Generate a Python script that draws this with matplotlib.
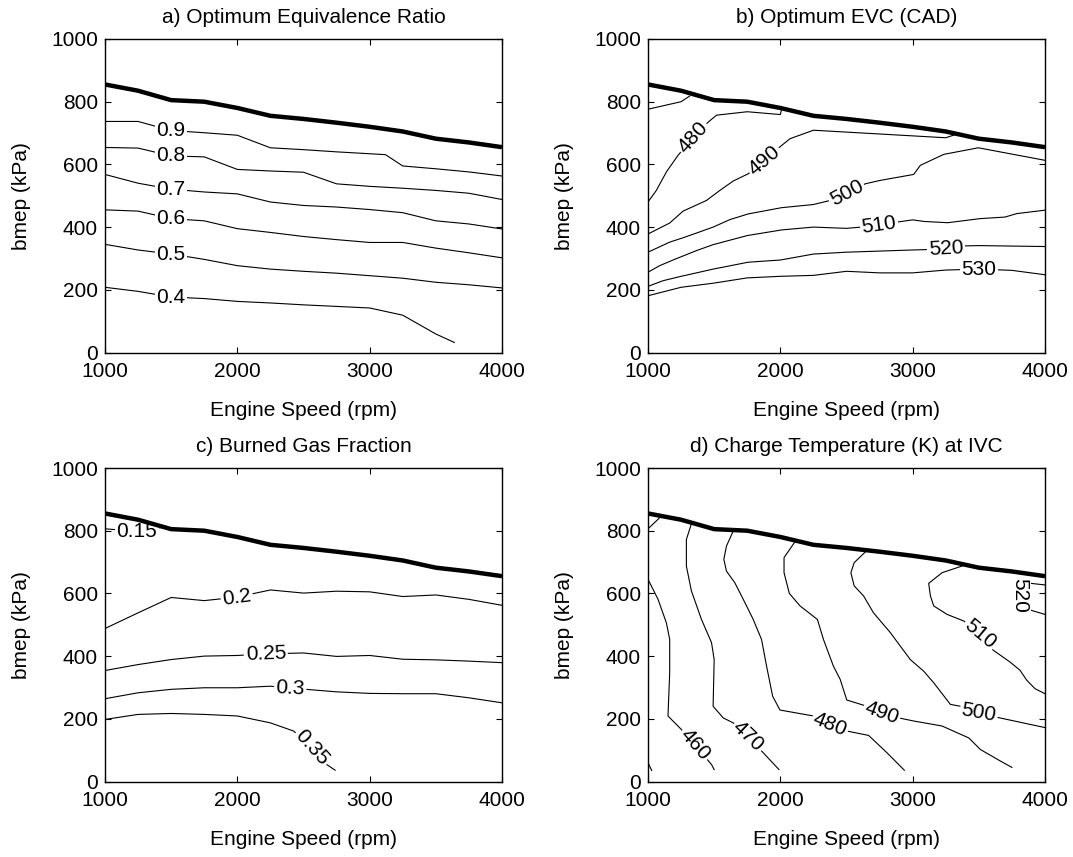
# plot.py
# =====================================================
# Four contour maps over the engine speed / load plane:
# optimum equivalence ratio, optimum EVC, burned gas
# fraction and charge temperature at IVC. Every panel
# is capped by the maximum-bmep line (thick black).
# Contour lines are traced polylines.
# =====================================================

import matplotlib
matplotlib.use("Agg")
import matplotlib.pyplot as plt

OUT_FILE = "out.png"

# -----------------------------------------------------
# Shared data
# -----------------------------------------------------
SPEED_GRID = [1000, 1250, 1500, 1750, 2000, 2250, 2500, 2750, 3000, 3250, 3500, 3750, 4000]
MAX_BMEP = [855, 835, 805, 800, 780, 755, 745, 733, 720, 705, 682, 670, 655]

# -----------------------------------------------------
# a) Optimum equivalence ratio
# -----------------------------------------------------
PHI_LEVELS = ["0.9", "0.8", "0.7", "0.6", "0.5", "0.4"]
PHI_X = [
    [1000, 1250, 1500, 1750, 2000, 2250, 2500, 2750, 3000, 3120, 3250, 3500, 3750, 4000],
    [1000, 1250, 1500, 1750, 2000, 2250, 2500, 2750, 3000, 3250, 3500, 3750, 4000],
    [1000, 1250, 1500, 1750, 2000, 2250, 2500, 2750, 3000, 3250, 3500, 3750, 4000],
    [1000, 1250, 1500, 1750, 2000, 2250, 2500, 2750, 3000, 3250, 3500, 3750, 4000],
    [1000, 1250, 1500, 1750, 2000, 2250, 2500, 2750, 3000, 3250, 3500, 3750, 4000],
    [1000, 1250, 1500, 1750, 2000, 2250, 2500, 2750, 3000, 3250, 3500, 3640],
]
PHI_Y = [
    [737, 737, 708, 701, 693, 653, 647, 640, 634, 631, 595, 586, 576, 563],
    [654, 652, 627, 624, 584, 579, 575, 538, 530, 524, 517, 508, 488],
    [568, 540, 521, 512, 506, 480, 469, 464, 456, 446, 420, 410, 394],
    [455, 451, 427, 420, 395, 383, 370, 360, 351, 351, 333, 318, 302],
    [345, 327, 314, 297, 277, 266, 259, 253, 245, 237, 224, 216, 206],
    [208, 195, 177, 172, 163, 158, 152, 147, 142, 119, 59, 32],
]
PHI_LABEL_AT = [2, 2, 2, 2, 2, 2]
PHI_LABEL_ROT = [0, 0, 0, 0, 0, 0]

# -----------------------------------------------------
# b) Optimum EVC (CAD)
# -----------------------------------------------------
EVC_LEVELS = ["470", "480", "490", "500", "510", "520", "530"]
EVC_X = [
    [1000, 1250, 1315],
    [1000, 1063, 1139, 1227, 1341, 1455, 1518, 1750, 2000, 2010],
    [1000, 1164, 1265, 1442, 1543, 1644, 1757, 1880, 1997, 2073, 2250, 3250, 3336],
    [1000, 1164, 1265, 1366, 1492, 1619, 1757, 2010, 2250, 2376, 2502, 2641, 2755,
     3008, 3058, 3235, 3496, 4000],
    [1000, 1088, 1189, 1366, 1492, 1750, 2010, 2250, 2500, 2747, 2881, 3000, 3088,
     3265, 3509, 3698, 3786, 4000],
    [1000, 1114, 1240, 1492, 1757, 2000, 2250, 2500, 3000, 3252, 3386, 3500, 4000],
    [1000, 1250, 1492, 1750, 2000, 2250, 2500, 2750, 3000, 3250, 3500, 3750, 4000],
]
EVC_Y = [
    [776, 800, 818],
    [480, 517, 576, 629, 686, 735, 757, 768, 759, 776],
    [378, 413, 451, 485, 517, 547, 570, 612, 656, 682, 709, 685, 697],
    [320, 352, 366, 381, 400, 424, 442, 462, 472, 485, 508, 538, 549,
     568, 597, 632, 653, 613],
    [256, 277, 295, 325, 344, 373, 391, 400, 396, 405, 416, 423, 418,
     414, 427, 432, 443, 454],
    [211, 229, 242, 266, 288, 295, 314, 320, 327, 330, 340, 341, 338],
    [181, 208, 221, 238, 243, 246, 259, 254, 254, 263, 266, 262, 248],
]
EVC_LABEL_AT = [None, 4, 7, 10, 9, 9, 10]
EVC_LABEL_ROT = [0, 48, 40, 28, 8, 3, 0]

# -----------------------------------------------------
# c) Burned gas fraction
# -----------------------------------------------------
BGF_LEVELS = ["0.15", "0.2", "0.25", "0.3", "0.35"]
BGF_X = [
    [1000, 1240, 1420],
    [1000, 1250, 1500, 1750, 1996, 2250, 2500, 2750, 3000, 3250, 3500, 3750, 4000],
    [1000, 1250, 1500, 1750, 2000, 2215, 2500, 2750, 3000, 3250, 3500, 3750, 4000],
    [1000, 1250, 1500, 1750, 2000, 2250, 2400, 2750, 3000, 3250, 3500, 3750, 4000],
    [1000, 1250, 1500, 1750, 2000, 2250, 2425, 2563, 2676, 2739],
]
BGF_Y = [
    [806, 798, 810],
    [488, 538, 587, 577, 588, 611, 601, 607, 605, 590, 595, 581, 562],
    [354, 373, 389, 400, 402, 407, 410, 399, 402, 390, 388, 384, 379],
    [264, 283, 294, 299, 299, 304, 298, 286, 281, 280, 280, 267, 251],
    [198, 214, 217, 214, 209, 187, 161, 107, 54, 36],
]
BGF_LABEL_AT = [1, 4, 5, 6, 7]
BGF_LABEL_ROT = [0, 8, 2, -3, -48]

# -----------------------------------------------------
# d) Charge temperature (K) at IVC
# -----------------------------------------------------
TIVC_LEVELS = ["450", "450", "460", "470", "480", "490", "500", "510", "520"]
TIVC_X = [
    [1000, 1090],
    [1000, 1028],
    [1000, 1076, 1139, 1164, 1164, 1151, 1252, 1354, 1480, 1500],
    [1328, 1290, 1290, 1328, 1404, 1480, 1500, 1492, 1568, 1644, 1757, 1859, 1990],
    [1644, 1593, 1573, 1593, 1656, 1720, 1795, 1858, 1896, 1942, 1997, 2250, 2376,
     2502, 2667, 2805, 2937],
    [2111, 2028, 2028, 2068, 2149, 2280, 2326, 2401, 2452, 2502, 2654, 2767, 2894,
     3007, 3222, 3424, 3512, 3664, 3750],
    [2649, 2558, 2533, 2558, 2629, 2704, 2831, 2982, 3083, 3159, 3285, 3361, 3500,
     3635, 4000],
    [3378, 3222, 3121, 3134, 3159, 3260, 3386, 3510, 3608, 3736, 3811, 3862, 3925, 4000],
    [4000, 3872, 3811, 3872, 4000],
]
TIVC_Y = [
    [806, 842],
    [60, 35],
    [645, 581, 506, 453, 347, 209, 166, 117, 54, 38],
    [822, 772, 687, 608, 517, 443, 389, 240, 203, 187, 143, 97, 38],
    [799, 751, 709, 671, 634, 581, 517, 453, 368, 272, 228, 209, 183,
     161, 147, 92, 36],
    [765, 714, 666, 600, 560, 517, 453, 368, 326, 260, 240, 220, 203,
     193, 177, 139, 102, 65, 45],
    [735, 698, 666, 624, 592, 538, 475, 389, 352, 315, 246, 240, 220,
     205, 172],
    [688, 666, 632, 592, 560, 533, 512, 470, 419, 381, 355, 323, 296, 280],
    [627, 633, 594, 549, 533],
]
TIVC_LABEL_AT = [None, None, 7, 10, 12, 11, 12, 7, 2]
TIVC_LABEL_ROT = [0, 0, -49, -44, -22, -20, -10, -40, -90]

FONT = "Liberation Sans"
FS = 15


def draw_panel(ax, title, xs, ys, levels, label_at, label_rot):
    # thin contour lines with in-line labels
    for x, y, lvl, idx, rot in zip(xs, ys, levels, label_at, label_rot):
        ax.plot(x, y, color="black", lw=0.8, zorder=2)
        if idx is not None:
            ax.text(x[idx], y[idx], lvl, rotation=rot, rotation_mode="anchor",
                    ha="center", va="center", fontsize=FS, family=FONT,
                    bbox=dict(boxstyle="square,pad=0.08", fc="white", ec="none"),
                    zorder=4)

    # maximum load line
    ax.plot(SPEED_GRID, MAX_BMEP, color="black", lw=3.2,
            solid_capstyle="butt", zorder=5)

    ax.set_xlim(1000, 4000)
    ax.set_ylim(0, 1000)
    ax.set_xticks([1000, 2000, 3000, 4000])
    ax.set_yticks([0, 200, 400, 600, 800, 1000])
    ax.tick_params(direction="in", top=True, right=True, length=4, width=0.8,
                   labelsize=FS)
    ax.tick_params(axis="x", pad=7)
    ax.tick_params(axis="y", pad=5)
    for lab in ax.get_xticklabels() + ax.get_yticklabels():
        lab.set_family(FONT)
    for sp in ax.spines.values():
        sp.set_linewidth(1.0)

    ax.set_title(title, fontsize=FS, family=FONT, y=1 + 21 / 313, pad=0,
                 va="center")
    ax.set_xlabel("Engine Speed (rpm)", fontsize=FS, family=FONT, va="center")
    ax.xaxis.set_label_coords(0.5, -58 / 313)
    ax.set_ylabel("bmep (kPa)", fontsize=FS, family=FONT, va="center")
    ax.yaxis.set_label_coords(-83 / 397, 0.5)


def main():
    W, H = 1073, 857
    fig = plt.figure(figsize=(W / 100, H / 100), dpi=100)

    def rect(left, top):
        return [left / W, 1 - (top + 313.5) / H, 397 / W, 313.5 / H]

    ax_a = fig.add_axes(rect(105, 39))
    ax_b = fig.add_axes(rect(648, 39))
    ax_c = fig.add_axes(rect(105, 468))
    ax_d = fig.add_axes(rect(648, 468))

    draw_panel(ax_a, "a) Optimum Equivalence Ratio", PHI_X, PHI_Y,
               PHI_LEVELS, PHI_LABEL_AT, PHI_LABEL_ROT)
    draw_panel(ax_b, "b) Optimum EVC (CAD)", EVC_X, EVC_Y,
               EVC_LEVELS, EVC_LABEL_AT, EVC_LABEL_ROT)
    draw_panel(ax_c, "c) Burned Gas Fraction", BGF_X, BGF_Y,
               BGF_LEVELS, BGF_LABEL_AT, BGF_LABEL_ROT)
    draw_panel(ax_d, "d) Charge Temperature (K) at IVC", TIVC_X, TIVC_Y,
               TIVC_LEVELS, TIVC_LABEL_AT, TIVC_LABEL_ROT)

    fig.savefig(OUT_FILE, dpi=100)
    plt.close(fig)


if __name__ == "__main__":
    main()
